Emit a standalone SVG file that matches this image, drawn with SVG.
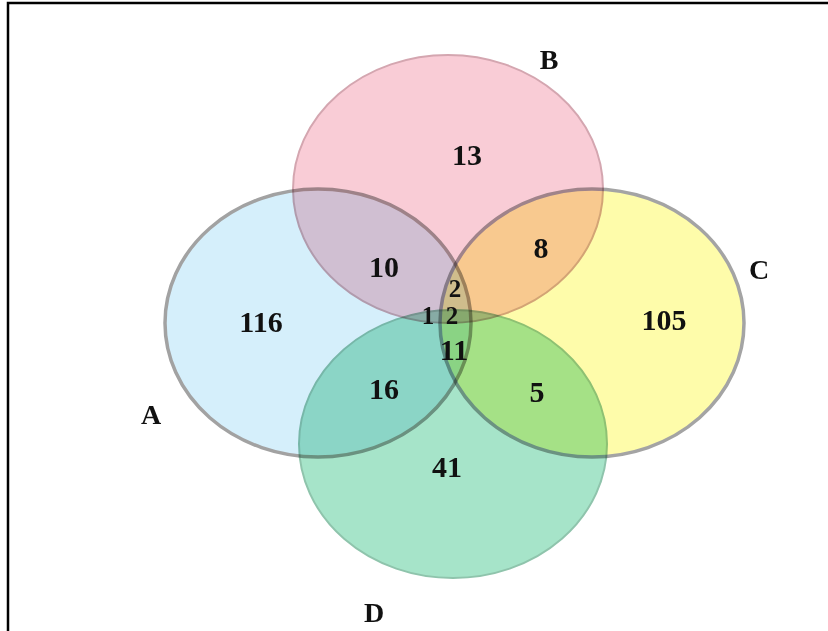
<svg xmlns="http://www.w3.org/2000/svg" width="828" height="631" viewBox="0 0 828 631">
<style>
.set{mix-blend-mode:multiply}
.num{font-family:"Liberation Serif","Times New Roman",serif;font-weight:bold;font-size:30px;fill:#111;text-anchor:middle}
.sm{font-size:25px}
.lbl{font-family:"Liberation Serif","Times New Roman",serif;font-weight:bold;font-size:28px;fill:#111;text-anchor:middle}
</style>
<rect x="0" y="0" width="828" height="631" fill="#ffffff"/>
<path d="M8,631 V3 H828" fill="none" stroke="#000" stroke-width="2.5"/>
<g id="sets">
<g id="setA"><ellipse class="set" cx="318" cy="323" rx="153" ry="134" fill="#d5effb" stroke="#a2a2a2" stroke-width="3.5"/></g>
<g id="setB"><ellipse class="set" cx="448" cy="189" rx="155" ry="134" fill="#f9ccd6" stroke="#d4a6b0" stroke-width="2"/></g>
<g id="setC"><ellipse class="set" cx="592" cy="323" rx="152" ry="134" fill="#fefcaa" stroke="#a4a4a4" stroke-width="3.5"/></g>
<g id="setD"><ellipse class="set" cx="453" cy="444" rx="154" ry="134" fill="#a6e4c9" stroke="#8fc4ac" stroke-width="2"/></g>
</g>
<g id="connectors"></g>
<g id="setLabels">
<text class="lbl" x="151" y="424">A</text>
<text class="lbl" x="549" y="69">B</text>
<text class="lbl" x="759" y="279">C</text>
<text class="lbl" x="374" y="622">D</text>
</g>
<g id="counts">
<text class="num" x="467" y="165">13</text>
<text class="num" x="384" y="277">10</text>
<text class="num" x="541" y="258">8</text>
<text class="num sm" x="455" y="297">2</text>
<text class="num sm" x="428" y="324">1</text>
<text class="num sm" x="452" y="324">2</text>
<text class="num" x="454" y="360">11</text>
<text class="num" x="261" y="332">116</text>
<text class="num" x="664" y="330">105</text>
<text class="num" x="384" y="399">16</text>
<text class="num" x="537" y="402">5</text>
<text class="num" x="447" y="477">41</text>
</g>
</svg>
